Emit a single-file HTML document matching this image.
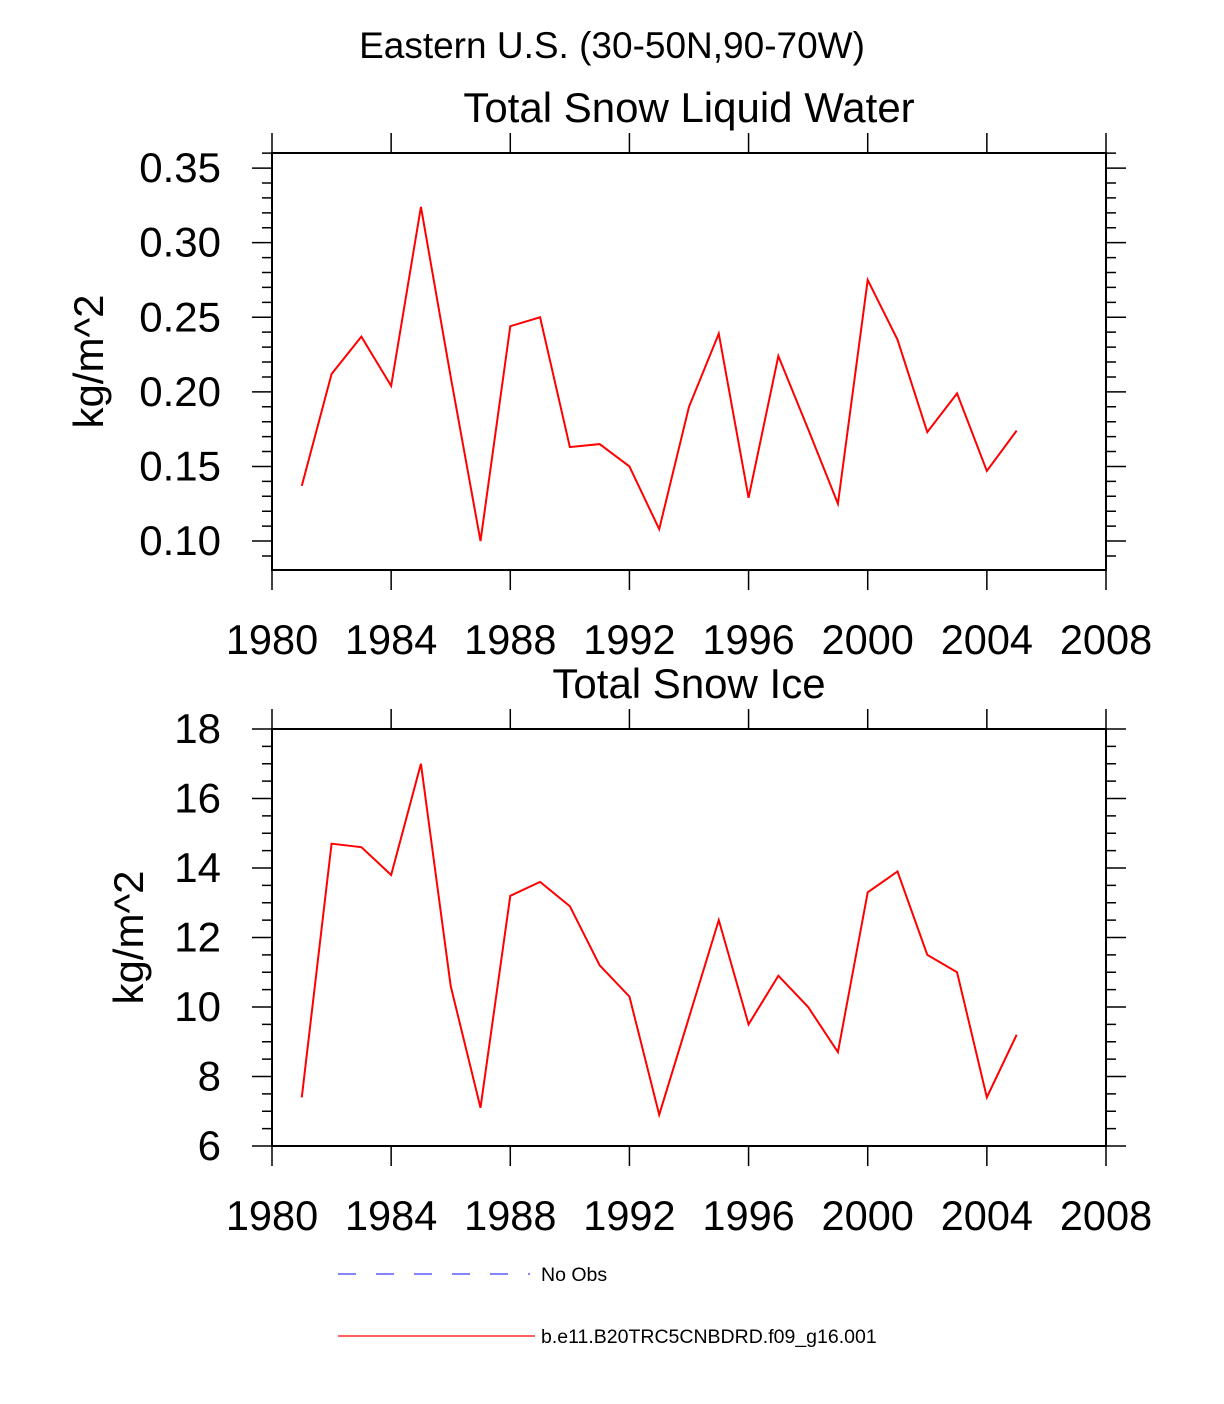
<!DOCTYPE html>
<html><head><meta charset="utf-8"><style>
html,body{margin:0;padding:0;background:#fff;}
svg{display:block;font-family:"Liberation Sans",sans-serif;}
</style></head><body>
<svg id="c" width="1224" height="1404" xmlns="http://www.w3.org/2000/svg">
<text x="612" y="58" font-size="37" text-anchor="middle">Eastern U.S. (30-50N,90-70W)</text>
<g id="legend">
<line x1="338" y1="1274" x2="530" y2="1274" stroke="#3b3bff" stroke-width="1.2" stroke-dasharray="18,20"/>
<text x="541" y="1281" font-size="19.5">No Obs</text>
<line x1="338" y1="1336" x2="535" y2="1336" stroke="red" stroke-width="1.2"/>
<text x="541" y="1343" font-size="19.5">b.e11.B20TRC5CNBDRD.f09_g16.001</text>
</g>
</svg>
<script>
const years=[1981,1982,1983,1984,1985,1986,1987,1988,1989,1990,1991,1992,1993,1994,1995,1996,1997,1998,1999,2000,2001,2002,2003,2004,2005];
const liquidWater=[0.137,0.212,0.237,0.204,0.324,0.210,0.100,0.244,0.250,0.163,0.165,0.150,0.108,0.190,0.239,0.129,0.224,0.175,0.125,0.275,0.235,0.173,0.199,0.147,0.174];
const snowIce=[7.4,14.7,14.6,13.8,17.0,10.6,7.1,13.2,13.6,12.9,11.2,10.3,6.9,9.7,12.5,9.5,10.9,10.0,8.7,13.3,13.9,11.5,11.0,7.4,9.2];
const xTicks=[1980,1984,1988,1992,1996,2000,2004,2008];
const yTicksTop=[0.10,0.15,0.20,0.25,0.30,0.35];
const yTicksBot=[6,8,10,12,14,16,18];
const NS="http://www.w3.org/2000/svg";
const svg=document.getElementById('c');
function mk(t,a,p){const e=document.createElementNS(NS,t);for(const k in a)e.setAttribute(k,a[k]);(p||svg).appendChild(e);return e;}
function panel(o){
  const L=272,R=1106,T=o.top,B=o.top+417;
  const g=mk('g',{});
  
  
  const xs=v=>L+(v-1980)/(2008-1980)*(R-L);
  const ys=v=>B-(v-o.ymin)/(o.ymax-o.ymin)*(B-T);
  const fr=mk('rect',{x:L,y:T,width:R-L,height:B-T,fill:'none',stroke:'#000','stroke-width':2},g);
  
  
  let d='';
  xTicks.forEach(y=>{const x=xs(y);d+=`M${x},${T}v-20M${x},${B}v20`;});
  for(let v=o.ymin0;v<=o.ymax+1e-9;v+=o.minor){const y=ys(v);if(y<T-0.5||y>B+0.5)continue;const maj=Math.abs(v/o.major-Math.round(v/o.major))<1e-6;const len=maj?20:10;d+=`M${L},${y}h${-len}M${R},${y}h${len}`;}
  const tk=mk('path',{d:d,stroke:'#000','stroke-width':1.5,fill:'none'},g);
  
  
  xTicks.forEach(v=>{const t=mk('text',{x:xs(v),y:B+84,'font-size':41.5,'text-anchor':'middle'},g);t.textContent=v;
    
    });
  o.yt.forEach(v=>{const t=mk('text',{x:221,y:ys(v)+14,'font-size':42,'text-anchor':'end'},g);t.textContent=o.fmt(v);
    
    });
  const tt=mk('text',{x:689,y:T-31,'font-size':42,'text-anchor':'middle'},g);tt.textContent=o.title;
  
  
  const yl=mk('text',{x:0,y:0,'font-size':42,'text-anchor':'middle',transform:`translate(${o.ylx},${(T+B)/2}) rotate(-90)`},g);yl.textContent='kg/m^2';
  
  
  const pts=years.map((y,i)=>xs(y)+','+ys(o.data[i])).join(' ');
  const ln=mk('polyline',{points:pts,fill:'none',stroke:'red','stroke-width':2},g);
  
  
}
panel({name:'snow-liquid-water-panel',top:153,ymin:0.0806,ymax:0.3601,ymin0:0.09,minor:0.01,major:0.05,yt:yTicksTop,fmt:v=>v.toFixed(2),title:'Total Snow Liquid Water',ylx:103,data:liquidWater});
panel({name:'snow-ice-panel',top:729,ymin:6,ymax:18,ymin0:6,minor:0.5,major:2,yt:yTicksBot,fmt:v=>String(v),title:'Total Snow Ice',ylx:143,data:snowIce});
</script>
</body></html>
